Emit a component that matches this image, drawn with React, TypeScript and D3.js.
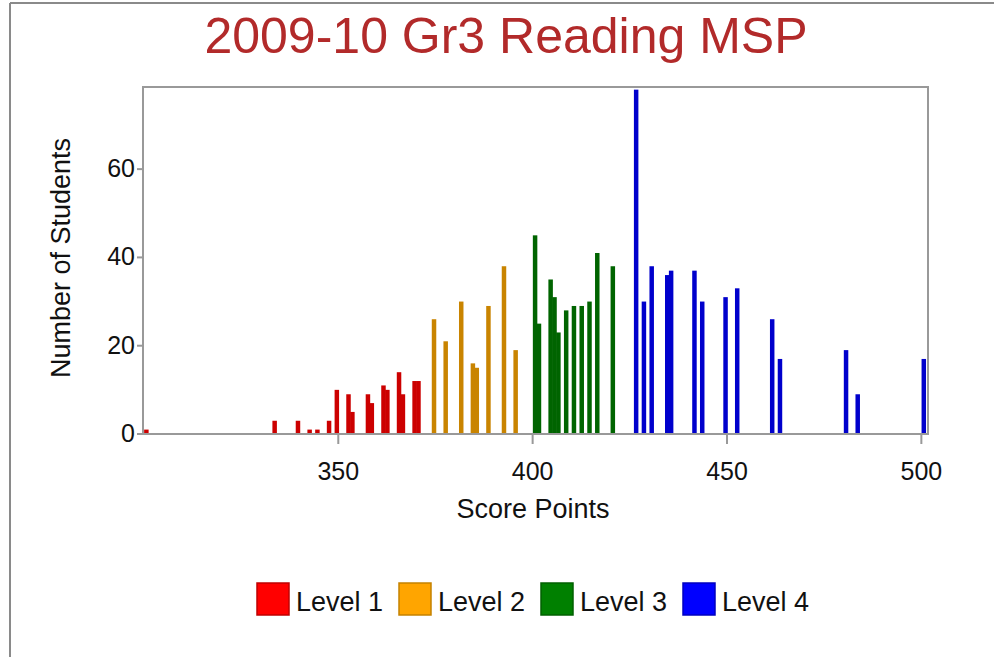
import React from 'react';
import * as d3 from 'd3';

const level1Scores = [300, 333, 339, 342, 344, 347, 349, 352, 353, 357, 358, 361, 362, 365, 366, 369, 370];
const level1Counts = [1, 3, 3, 1, 1, 3, 10, 9, 5, 9, 7, 11, 10, 14, 9, 12, 12];
const level2Scores = [374, 377, 381, 384, 385, 388, 392, 395];
const level2Counts = [26, 21, 30, 16, 15, 29, 38, 19];
const level3Scores = [400, 401, 404, 405, 406, 408, 410, 412, 414, 416, 420];
const level3Counts = [45, 25, 35, 31, 23, 28, 29, 29, 30, 41, 38];
const level4Scores = [426, 428, 430, 434, 435, 441, 443, 449, 452, 461, 463, 480, 483, 500];
const level4Counts = [78, 30, 38, 36, 37, 37, 30, 31, 33, 26, 17, 19, 9, 17];

const levelNames = ['Level 1', 'Level 2', 'Level 3', 'Level 4'];
const xTicks = [350, 400, 450, 500];
const yTicks = [0, 20, 40, 60];

const barColors = ['#cc0000', '#c98400', '#006400', '#0000cc'];
const legendFill = ['#ff0000', '#ffa500', '#008000', '#0000ff'];
const legendStroke = ['#c00000', '#c58200', '#006000', '#0000c0'];

const FONT = '"Liberation Sans", Arial, sans-serif';

export default function App() {
  const W = 994, H = 657;
  const L = 143, T = 87, R = 928, B = 434;
  const x = d3.scaleLinear().domain([299.76, 501.71]).range([L, R]);
  const y = d3.scaleLinear().domain([0, 78.6]).range([B, T]);

  const series = [
    { scores: level1Scores, counts: level1Counts },
    { scores: level2Scores, counts: level2Counts },
    { scores: level3Scores, counts: level3Counts },
    { scores: level4Scores, counts: level4Counts },
  ];

  return (
    <svg width={W} height={H} style={{ position: 'absolute', left: 0, top: 0, background: '#fff' }} fontFamily={FONT}>
      <rect x={0} y={0} width={W} height={H} fill="#fff" />
      <line x1={10} y1={3} x2={W} y2={3} stroke="#8a8a8a" strokeWidth={2} />
      <line x1={10} y1={3} x2={10} y2={H} stroke="#8a8a8a" strokeWidth={2} />

      <text x={506} y={53} textAnchor="middle" fontSize={50} fill="#b22a2a">2009-10 Gr3 Reading MSP</text>

      <defs>
        <clipPath id="plotclip">
          <rect x={L} y={T} width={R - L} height={B - T} />
        </clipPath>
      </defs>

      <g clipPath="url(#plotclip)">
        {series.map((s, si) =>
          s.scores.map((v, i) => {
            const c = s.counts[i];
            const x0 = x(v) + 0.2;
            const w = x(v + 1) - x(v) + 0.6;
            return (
              <rect key={si + '-' + v} x={x0} y={y(c)} width={w} height={y(0) - y(c)} fill={barColors[si]} />
            );
          })
        )}
      </g>

      <rect x={L} y={T} width={R - L} height={B - T} fill="none" stroke="#999" strokeWidth={2} />

      {yTicks.map((t) => (
        <g key={'y' + t}>
          <line x1={L - 6} x2={L} y1={y(t)} y2={y(t)} stroke="#999" strokeWidth={2} />
          <text x={L - 8} y={y(t) + 8} textAnchor="end" fontSize={25} fill="#111">{t}</text>
        </g>
      ))}

      {xTicks.map((t) => (
        <g key={'x' + t}>
          <line x1={x(t)} x2={x(t)} y1={B} y2={B + 10} stroke="#999" strokeWidth={2} />
          <text x={x(t)} y={480} textAnchor="middle" fontSize={25} fill="#111">{t}</text>
        </g>
      ))}

      <text x={533} y={518} textAnchor="middle" fontSize={27} fill="#111">Score Points</text>
      <text transform={`translate(70, 258) rotate(-90)`} textAnchor="middle" fontSize={27} fill="#111">Number of Students</text>

      {levelNames.map((n, i) => {
        const bx = 257 + i * 142;
        return (
          <g key={n}>
            <rect x={bx} y={583} width={32} height={32} fill={legendFill[i]} stroke={legendStroke[i]} strokeWidth={1.5} />
            <text x={bx + 39} y={611} fontSize={27} fill="#111">{n}</text>
          </g>
        );
      })}
    </svg>
  );
}
